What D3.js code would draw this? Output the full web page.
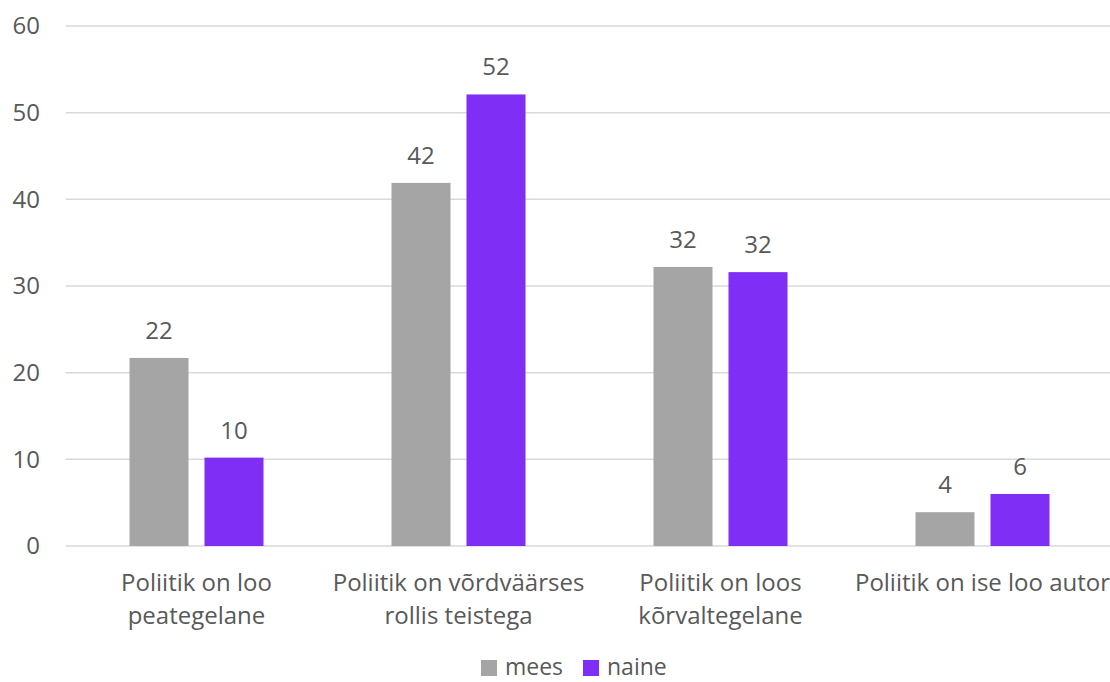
<!DOCTYPE html>
<html>
<head>
<meta charset="utf-8">
<script src="https://cdn.jsdelivr.net/npm/d3@7"></script>
<style>
  body { margin: 0; background: #fff; }
  svg { display: block; font-family: "Open Sans", sans-serif; }
</style>
</head>
<body>
<svg id="chart" width="1110" height="682"></svg>
<script>
// data
var categories = [
  ["Poliitik on loo", "peategelane"],
  ["Poliitik on võrdväärses", "rollis teistega"],
  ["Poliitik on loos", "kõrvaltegelane"],
  ["Poliitik on ise loo autor"]
];
var seriesNames = ["mees", "naine"];
var mees = [21.7, 41.9, 32.2, 3.9];
var naine = [10.2, 52.1, 31.6, 6.0];
var yTicks = [0, 10, 20, 30, 40, 50, 60];

var colors = {mees: "#a5a5a5", naine: "#7f2ef5"};
var textColor = "#595959";

var svg = d3.select("#chart"),
  margin = {top: 26, left: 65.5, bottom: 136},
  width = 1048,
  height = +svg.attr("height") - margin.top - margin.bottom;

var rows = categories.map(function(c, i) {
  return {key: i, label: c, mees: mees[i], naine: naine[i]};
});

var x0 = d3.scaleBand()
  .domain(rows.map(function(d) { return d.key; }))
  .range([margin.left, margin.left + width])
  .padding(0);

var x1 = d3.scaleBand()
  .domain(seriesNames)
  .range([64, 198])
  .paddingInner(0.2133);

var y = d3.scaleLinear()
  .domain([0, 60])
  .range([margin.top + height, margin.top]);

// gridlines
svg.append("g")
  .attr("class", "grid")
  .selectAll("line")
  .data(yTicks)
  .enter().append("line")
  .attr("x1", margin.left)
  .attr("x2", margin.left + width)
  .attr("y1", function(d) { return y(d); })
  .attr("y2", function(d) { return y(d); })
  .attr("stroke", "#d9d9d9")
  .attr("stroke-width", 1.5);

// y axis labels
var yAxis = svg.append("g")
  .attr("transform", "translate(40,0)")
  .call(d3.axisLeft(y).tickValues(yTicks).tickSize(0).tickPadding(0));
yAxis.select(".domain").remove();
yAxis.selectAll("text")
  .attr("fill", textColor)
  .style("font-family", "'Open Sans', sans-serif")
  .style("font-size", "24px");

// bars
var groups = svg.append("g")
  .selectAll("g")
  .data(rows)
  .enter().append("g")
  .attr("transform", function(d) { return "translate(" + x0(d.key) + ",0)"; });

groups.selectAll("rect")
  .data(function(d) { return seriesNames.map(function(s) { return {s: s, v: d[s]}; }); })
  .enter().append("rect")
  .attr("x", function(d) { return x1(d.s); })
  .attr("width", x1.bandwidth())
  .attr("y", function(d) { return y(d.v); })
  .attr("height", function(d) { return y(0) - y(d.v); })
  .attr("fill", function(d) { return colors[d.s]; });

groups.selectAll("text.val")
  .data(function(d) { return seriesNames.map(function(s) { return {s: s, v: d[s]}; }); })
  .enter().append("text")
  .attr("class", "val")
  .attr("x", function(d) { return x1(d.s) + x1.bandwidth() / 2; })
  .attr("y", function(d) { return y(d.v) - 19; })
  .attr("text-anchor", "middle")
  .attr("fill", textColor)
  .style("font-size", "24px")
  .text(function(d) { return d3.format(".0f")(d.v); });

// x axis category labels
var xAxis = svg.append("g")
  .attr("transform", "translate(0," + y(0) + ")")
  .call(d3.axisBottom(x0).tickSize(0).tickFormat(""));
xAxis.select(".domain").remove();

xAxis.selectAll(".tick").append("text")
  .attr("fill", textColor)
  .attr("text-anchor", "middle")
  .style("font-family", "'Open Sans', sans-serif")
  .style("font-size", "24px")
  .selectAll("tspan")
  .data(function(d) { return categories[d]; })
  .enter().append("tspan")
  .attr("x", 0)
  .attr("y", function(d, i) { return 45 + i * 33; })
  .text(function(d) { return d; });

// legend
var legend = svg.append("g")
  .attr("transform", "translate(481,0)");

var items = legend.selectAll("g")
  .data(seriesNames)
  .enter().append("g")
  .attr("transform", function(d, i) { return "translate(" + (i * 102) + ",0)"; });

items.append("rect")
  .attr("y", 660)
  .attr("width", 16)
  .attr("height", 16)
  .attr("fill", function(d) { return colors[d]; });

items.append("text")
  .attr("x", 24)
  .attr("y", 675)
  .attr("fill", textColor)
  .style("font-size", "23px")
  .text(function(d) { return d; });
</script>
</body>
</html>
